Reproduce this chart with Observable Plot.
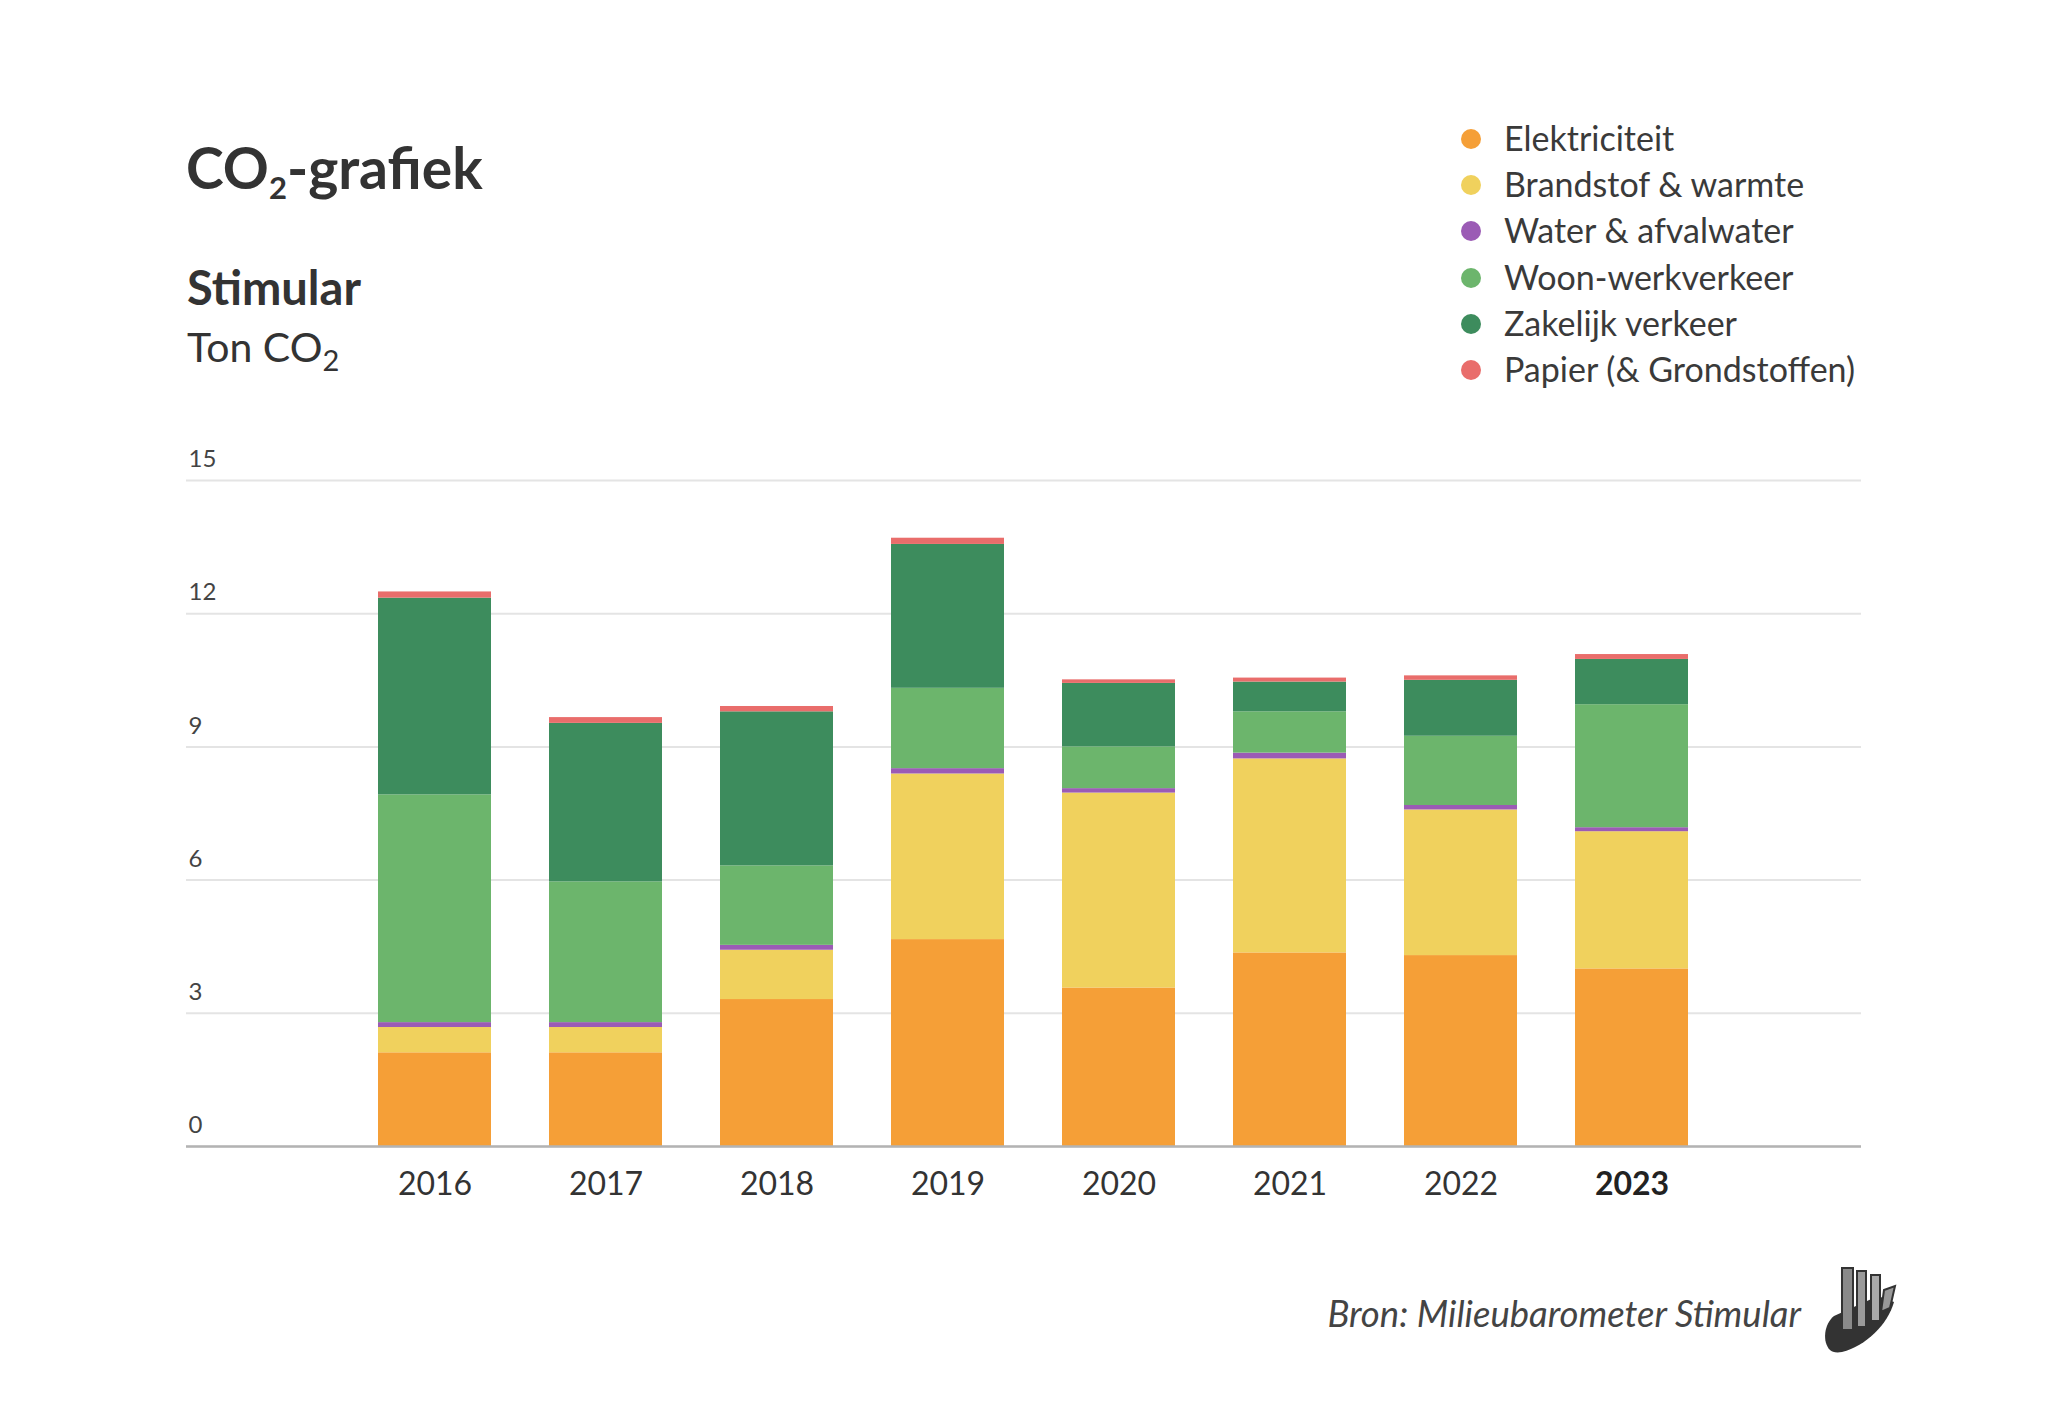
<!DOCTYPE html>
<html>
<head>
<meta charset="utf-8">
<script src="https://cdn.jsdelivr.net/npm/d3@7"></script>
<script src="https://cdn.jsdelivr.net/npm/@observablehq/plot@0.6"></script>
<style>
  body { margin: 0; background: #fff; }
  #page { position: relative; width: 2048px; height: 1408px; overflow: hidden;
          font-family: Lato, "Noto Sans", sans-serif; color: #333; }
  .abs { position: absolute; white-space: nowrap; line-height: 1.2; }
  .sub { position: relative; line-height: 0; }
  #legend { position: absolute; left: 1461px; top: 116px; }
  .row { display: flex; align-items: center; height: 46.2px; }
  .dot { width: 20px; height: 20px; border-radius: 50%; margin-right: 23px; }
  .lab { font-size: 34px; line-height: 46.2px; color: #3a3a3a; position: relative; top: -1px; }
  #chart { position: absolute; left: 0; top: 440px; }
</style>
</head>
<body>
<div id="page">
  <div class="abs" style="left:186px;top:133px;font-size:57px;font-weight:700;color:#333;">CO<span class="sub" style="font-size:31px;top:10px;">2</span>-grafiek</div>
  <div class="abs" style="left:187px;top:259px;font-size:47px;font-weight:700;color:#333;">Stimular</div>
  <div class="abs" style="left:187px;top:322px;font-size:41px;font-weight:400;color:#333;">Ton CO<span class="sub" style="font-size:29px;top:9px;">2</span></div>
  <div id="legend"></div>
  <div class="abs" style="right:247px;top:1292px;font-size:36.5px;font-style:italic;color:#444;">Bron: Milieubarometer Stimular</div>
  <div id="chart"></div>
  <svg style="position:absolute;left:1820px;top:1262px;" width="80" height="92" viewBox="0 0 80 92">
    <path d="M10 88 C2 80 4 62 14 54 L58 34 L74 40 C68 62 46 84 22 90 C16 91 12 90 10 88 Z" fill="#333"/>
    <rect x="22" y="6" width="11" height="62" fill="#8a8a8a" stroke="#333" stroke-width="2"/>
    <rect x="37" y="9" width="9" height="56" fill="#9a9a9a" stroke="#333" stroke-width="2"/>
    <rect x="51" y="13" width="9" height="46" fill="#aaa" stroke="#333" stroke-width="2"/>
    <polygon points="64,28 75,24 70,46 61,50" fill="#999" stroke="#333" stroke-width="2"/>
  </svg>
</div>
<script>
const years = ["2016", "2017", "2018", "2019", "2020", "2021", "2022", "2023"];
const categories = ["Elektriciteit", "Brandstof & warmte", "Water & afvalwater", "Woon-werkverkeer", "Zakelijk verkeer", "Papier (& Grondstoffen)"];
const colors = ["#f59f37", "#f0d15d", "#9b5bb5", "#6cb56c", "#3d8c5d", "#e96d6b"];

const elektriciteit = [2.11, 2.11, 3.31, 4.66, 3.57, 4.36, 4.30, 4.00];
const brandstof     = [0.57, 0.57, 1.11, 3.73, 4.39, 4.37, 3.28, 3.09];
const water         = [0.11, 0.11, 0.11, 0.12, 0.10, 0.13, 0.10, 0.09];
const woonwerk      = [5.13, 3.17, 1.79, 1.81, 0.94, 0.93, 1.56, 2.77];
const zakelijk      = [4.43, 3.57, 3.47, 3.24, 1.43, 0.67, 1.26, 1.02];
const papier        = [0.14, 0.13, 0.12, 0.14, 0.08, 0.09, 0.10, 0.11];

const yTicks = [0, 3, 6, 9, 12, 15];
const boldYear = "2023";

const series = [elektriciteit, brandstof, water, woonwerk, zakelijk, papier];
const rows = [];
years.forEach((yr, i) => categories.forEach((c, j) => rows.push({year: yr, category: c, value: series[j][i]})));

const chart = Plot.plot({
  width: 2048,
  height: 786,
  marginLeft: 186,
  marginRight: 187,
  marginTop: 40,
  marginBottom: 80,
  style: {fontFamily: "Lato, 'Noto Sans', sans-serif", background: "transparent", overflow: "visible"},
  x: {type: "band", domain: years, range: [377, 1690], paddingInner: 0.338, paddingOuter: 0},
  y: {domain: [0, 15]},
  color: {domain: categories, range: colors},
  marks: [
    Plot.gridY(yTicks, {stroke: "#e4e4e4", strokeOpacity: 1, strokeWidth: 2}),
    Plot.barY(rows, {x: "year", y: "value", fill: "category", order: categories}),
    Plot.ruleY([0], {stroke: "#b3b3b3", strokeWidth: 2.5}),
    Plot.axisY(yTicks, {tickSize: 0, tickPadding: 0, textAnchor: "start", dx: 2, dy: -21, fontSize: 24, fill: "#444", label: null}),
    Plot.axisX(years.filter(y => y !== boldYear), {tickSize: 0, tickPadding: 26, fontSize: 32, fill: "#333", label: null}),
    Plot.axisX([boldYear], {tickSize: 0, tickPadding: 26, fontSize: 32, fontWeight: "bold", fill: "#222", label: null})
  ]
});
document.getElementById("chart").appendChild(chart);

const legend = document.getElementById("legend");
categories.forEach((c, i) => {
  const row = document.createElement("div");
  row.className = "row";
  const dot = document.createElement("div");
  dot.className = "dot";
  dot.style.background = colors[i];
  const lab = document.createElement("div");
  lab.className = "lab";
  lab.textContent = c;
  row.appendChild(dot);
  row.appendChild(lab);
  legend.appendChild(row);
});
</script>
</body>
</html>
